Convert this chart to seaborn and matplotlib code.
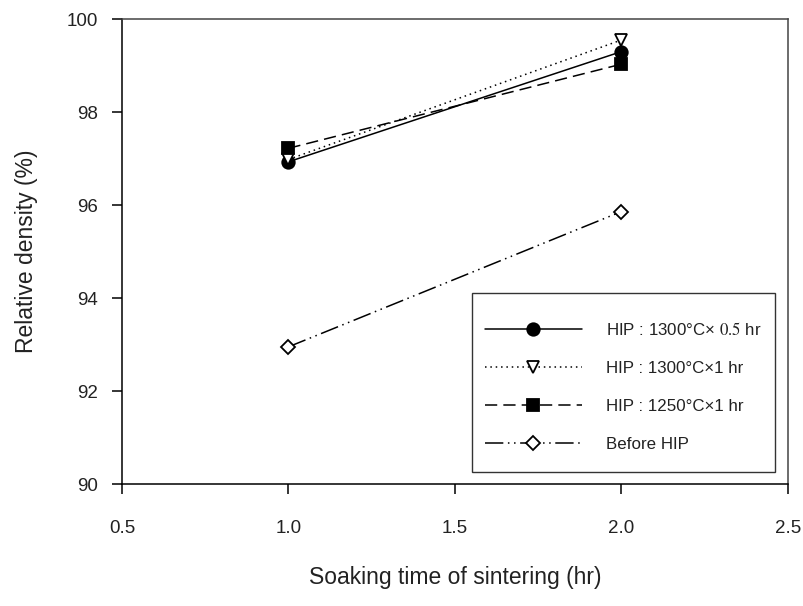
import matplotlib
matplotlib.use("Agg")
import matplotlib.pyplot as plt
import seaborn as sns
import pandas as pd
from matplotlib.lines import Line2D
from matplotlib.patches import Rectangle

sns.set_theme(style="white")
plt.rcParams["font.family"] = ["Liberation Sans", "DejaVu Sans"]
plt.rcParams["mathtext.fontset"] = "stix"

# Soaking time (hr) and relative density (%) for each condition
soak_time = [1.0, 2.0]
hip_1300_05 = [96.93, 99.30]
hip_1300_1 = [96.98, 99.55]
hip_1250_1 = [97.22, 99.03]
before_hip = [92.95, 95.86]

labels = [
    "HIP : 1300°C× $0.5$ hr",
    "HIP : 1300°C×1 hr",
    "HIP : 1250°C×1 hr",
    "Before HIP",
]
series = [hip_1300_05, hip_1300_1, hip_1250_1, before_hip]

styles = [
    dict(linestyle="-", marker="o", mfc="black"),
    dict(linestyle=(0, (1, 2.5)), marker="v", mfc="white"),
    dict(linestyle=(0, (8, 4)), marker="s", mfc="black"),
    dict(linestyle=(0, (12, 3, 1, 3, 1, 3)), marker="D", mfc="white"),
]
sizes = [9, 9, 8.5, 7.5]

df = pd.concat(
    [pd.DataFrame({"time": soak_time, "density": v, "cond": lab})
     for v, lab in zip(series, labels)],
    ignore_index=True,
)

fig = plt.figure(figsize=(8.04, 6.06), dpi=100)
ax = fig.add_axes([0.1517, 0.2013, 0.8284, 0.7673])

handles = []
for lab, st, ms in zip(labels, styles, sizes):
    sub = df[df["cond"] == lab]
    sns.lineplot(data=sub, x="time", y="density", ax=ax, color="black",
                 linewidth=1.1, linestyle=st["linestyle"], marker=st["marker"],
                 markersize=ms, markerfacecolor=st["mfc"],
                 markeredgecolor="black", markeredgewidth=1.3, legend=False)
    handles.append(Line2D([], [], color="black", linewidth=1.1,
                          linestyle=st["linestyle"], marker=st["marker"],
                          markersize=ms, markerfacecolor=st["mfc"],
                          markeredgecolor="black", markeredgewidth=1.3))

ax.set_xlim(0.5, 2.5)
ax.set_ylim(90, 100)
ax.set_xticks([0.5, 1.0, 1.5, 2.0, 2.5])
ax.set_xticklabels(["0.5", "1.0", "1.5", "2.0", "2.5"])
ax.set_yticks([90, 92, 94, 96, 98, 100])

for side, sp in ax.spines.items():
    sp.set_visible(True)
    sp.set_linewidth(1.1)
    sp.set_color("black" if side in ("left", "bottom") else "#444444")

ax.tick_params(axis="both", which="major", direction="out", length=7,
               width=1.1, color="black", labelsize=13.5, labelcolor="#222222")
ax.tick_params(axis="x", pad=19, bottom=True)
ax.tick_params(axis="y", pad=10.5, left=True)

ax.set_xlabel("Soaking time of sintering (hr)", fontsize=16.5, color="#222222")
ax.set_ylabel("Relative density (%)", fontsize=16.5, color="#222222")
ax.xaxis.label.set_va("center")
ax.yaxis.label.set_va("center")
ax.xaxis.set_label_coords(0.5, -0.202)
ax.yaxis.set_label_coords(-0.1426, 0.5)

# Legend box: a plain rectangle with generous top/bottom margins
ax.add_patch(Rectangle((0.5255, 0.0258), 0.455, 0.385, transform=ax.transAxes,
                       facecolor="white", edgecolor="#333333", linewidth=1.0,
                       zorder=4))
leg = ax.legend(handles, labels, loc="upper left",
                bbox_to_anchor=(0.545, 0.3505), borderaxespad=0, borderpad=0,
                frameon=False, prop={"size": 12.2}, handlelength=5.7,
                handletextpad=1.45, labelspacing=1.36)
leg.set_zorder(5)
for t in leg.get_texts():
    t.set_color("#222222")

fig.savefig("out.png", dpi=100)
